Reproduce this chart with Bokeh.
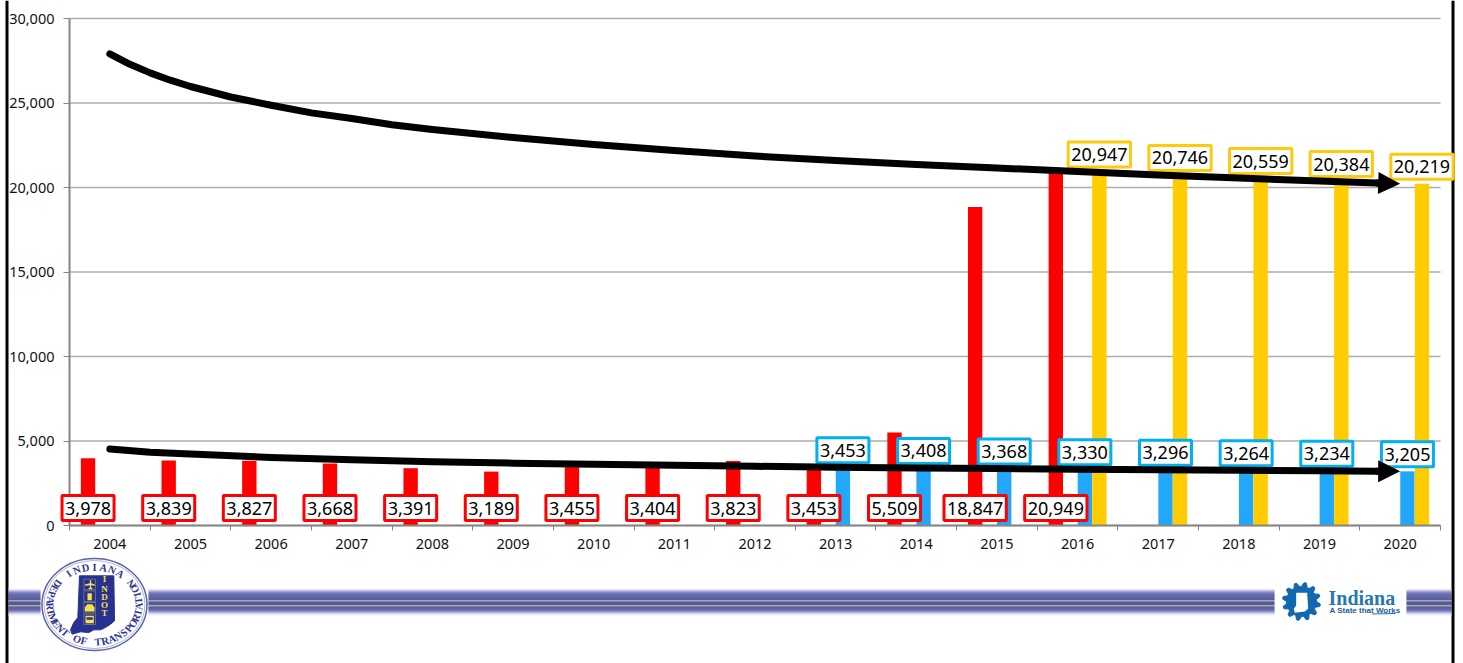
import numpy as np
from bokeh.core.properties import value
from bokeh.embed import file_html
from bokeh.models import (Arrow, ColumnDataSource, FixedTicker, Label, NormalHead,
                          NumeralTickFormatter, Range1d)
from bokeh.plotting import figure
from bokeh.resources import INLINE
from bokeh.transform import dodge

# Actual and forecast counts per year
actual_years = list(range(2004, 2017))
actual_values = [3978, 3839, 3827, 3668, 3391, 3189, 3455, 3404, 3823, 3453, 5509, 18847, 20949]
low_years = list(range(2013, 2021))
low_values = [3453, 3408, 3368, 3330, 3296, 3264, 3234, 3205]
high_years = list(range(2016, 2021))
high_values = [20947, 20746, 20559, 20384, 20219]
all_years = list(range(2004, 2021))
y_ticks = [0, 5000, 10000, 15000, 20000, 25000, 30000]

# Trend curves drawn above the bars
upper_x = [2004, 2004.25, 2004.5, 2004.75, 2005, 2005.5, 2006, 2006.5, 2007, 2007.5, 2008, 2009,
           2010, 2011, 2012, 2013, 2014, 2015, 2016, 2017, 2018, 2019, 2020]
upper_trend = [27911, 27290, 26781, 26349, 25976, 25355, 24870, 24414, 24083, 23710, 23432, 22959,
               22544, 22189, 21864, 21598, 21361, 21154, 20947, 20746, 20559, 20384, 20219]
lower_x = [2004, 2004.5, 2005, 2006, 2007, 2008, 2009, 2010, 2011, 2012, 2013, 2014, 2015, 2016,
           2017, 2018, 2019, 2020]
lower_trend = [4520, 4340, 4225, 4030, 3888, 3775, 3690, 3618, 3558, 3503, 3453, 3408, 3368, 3330,
               3296, 3264, 3234, 3205]

RED, BLUE, GOLD = "#FF0000", "#22A7FB", "#FFCC00"
RED_EDGE, BLUE_EDGE, GOLD_EDGE = "#FF0000", "#00B0F0", "#FFC90E"
FONT = "Noto Sans"
BAR_W = 0.178
OFF_RED, OFF_BLUE, OFF_GOLD = -0.27, 0.09, 0.27
GRID = "#ADADAD"
AXIS = "#868686"

# The plotting area fills the page; the visible axes sit at fixed spots inside it
W, H = 1463, 663
LEFT, RIGHT, TOP, BASE = 69, 1440, 18, 525
X0, X1, Y1 = 2003.5, 2020.5, 30000
px_per_year = (RIGHT - LEFT) / (X1 - X0)
px_per_unit = (BASE - TOP) / Y1
p = figure(width=W, height=H, output_backend="svg", toolbar_location=None,
           x_range=Range1d(X0 - LEFT / px_per_year, X1 + (W - RIGHT) / px_per_year),
           y_range=Range1d(-(H - BASE) / px_per_unit, Y1 + TOP / px_per_unit),
           min_border=0, outline_line_color=None)
p.extra_x_ranges["px"] = Range1d(0, W)
p.extra_y_ranges["py"] = Range1d(H, 0)
page = dict(x_range_name="px", y_range_name="py")
p.grid.visible = False

p.segment(x0=X0, x1=X1, y0=y_ticks, y1=y_ticks, line_color=GRID, line_width=1.3)

p.yaxis.fixed_location = X0
p.yaxis.bounds = (0, Y1)
p.yaxis.ticker = FixedTicker(ticks=y_ticks)
p.yaxis.formatter = NumeralTickFormatter(format="0,0")
p.yaxis.minor_tick_line_color = None
p.yaxis.major_tick_in = 0
p.yaxis.major_tick_out = 6
p.yaxis.major_tick_line_color = AXIS
p.yaxis.major_label_standoff = 9
p.xaxis.fixed_location = 0
p.xaxis.bounds = (X0, X1)
p.xaxis.ticker = FixedTicker(ticks=all_years, minor_ticks=[y - 0.5 for y in all_years] + [X1])
p.xaxis.major_tick_line_color = None
p.xaxis.major_label_standoff = 7
p.xaxis.minor_tick_in = 0
p.xaxis.minor_tick_out = 5
p.xaxis.minor_tick_line_color = AXIS
p.xaxis.formatter = NumeralTickFormatter(format="0")
for ax in (p.xaxis[0], p.yaxis[0]):
    ax.axis_line_color = AXIS
    ax.axis_line_width = 2
    ax.major_label_text_font = FONT
    ax.major_label_text_font_size = "14.5px"
    ax.major_label_text_color = "#111111"

series = [(actual_years, actual_values, OFF_RED, RED),
          (low_years, low_values, OFF_BLUE, BLUE),
          (high_years, high_values, OFF_GOLD, GOLD)]
for years, vals, off, col in series:
    src = ColumnDataSource(dict(year=years, val=vals))
    p.vbar(x=dodge("year", off, range=p.x_range), top="val", width=BAR_W, source=src,
           fill_color=col, line_color=None)


def boxed(year, off, y, text, edge, lift):
    p.add_layout(Label(x=year + off, y=y, y_offset=lift, text=text, text_align="center",
                       text_baseline="middle", text_font=FONT, text_font_size="18px",
                       text_color="#000000", background_fill_color="white",
                       border_line_color=edge, border_line_width=3, padding=(3, 6),
                       level="annotation"))


for yr, v in zip(actual_years, actual_values):
    boxed(yr, OFF_RED, 0, f"{v:,}", RED_EDGE, 17.5)
for yr, v in zip(low_years, low_values):
    boxed(yr, OFF_BLUE, v, f"{v:,}", BLUE_EDGE, 17)
for yr, v in zip(high_years, high_values):
    boxed(yr, OFF_GOLD, v, f"{v:,}", GOLD_EDGE, 17)

for xs, curve in ((upper_x, upper_trend), (lower_x, lower_trend)):
    shaft_y = curve[-1] + (curve[-2] - curve[-1]) * 0.28
    p.line(xs[:-1] + [2019.72], curve[:-1] + [shaft_y], line_color="black", line_width=7,
           line_cap="round", line_join="round", level="overlay")
    p.add_layout(Arrow(end=NormalHead(size=22, fill_color="black", line_color="black", line_width=0),
                       x_start=2019.7, y_start=shaft_y, x_end=2020, y_end=curve[-1],
                       line_color="black", line_width=7, level="overlay"))

# Page edges and footer band, laid out in page pixels
p.quad(left=[5, 1451], right=[8, 1454], top=0, bottom=H, fill_color="black", line_color=None, **page)

band_rows = ["#F4F4FA", "#D0D2EA", "#9FA3D4", "#7176BE", "#5057AC", "#3F46A0", "#363C97", "#303690",
             "#2D338B", "#2A3086", "#282D80", "#25297A", "#B8B8C0", "#24286C", "#212564", "#212564",
             "#24286C", "#C0C0C8", "#25297A", "#282D80", "#2D338B", "#363C97", "#4C52A8", "#787DC0",
             "#A6A9D8", "#CFD1EA", "#EFF0F8"]
for x0, x1 in [(8, 40), (148, 1274), (1406, 1451)]:
    p.quad(left=x0, right=x1, top=[588 + i for i in range(len(band_rows))],
           bottom=[589 + i for i in range(len(band_rows))], fill_color=band_rows, line_color=None, **page)

# Department seal
cx, cy, rx, ry = 94, 604, 52.5, 46
p.ellipse(x=[cx], y=[cy], width=[rx * 2], height=[ry * 2], fill_color="white",
          line_color="#5A62A8", line_width=1.5, **page)
p.ellipse(x=[cx], y=[cy], width=[rx * 2 - 4], height=[ry * 2 - 4], fill_color=None,
          line_color="#9AA0CC", line_width=0.8, **page)


def seal_x(v):
    return [30 + a / 3 for a in v]


def seal_y(v):
    return [552 + a / 3 for a in v]


state_x = [147, 250, 252, 240, 225, 210, 190, 175, 150, 125, 120, 130, 142]
state_y = [70, 70, 205, 215, 225, 232, 232, 240, 238, 245, 232, 210, 195]
p.patch(seal_x(state_x), seal_y(state_y), fill_color="#27318F", line_color="#27318F", **page)

for ch, yy in zip("INDOT", [80, 108, 134, 158, 182]):
    p.text(x=[30 + 222 / 3], y=[552 + yy / 3], text=[ch], text_color="#F5E04A",
           text_font=value("Liberation Serif"), text_font_style="bold", text_font_size="9px",
           text_align="center", text_baseline="middle", **page)

for top, bot in [(80, 112), (115, 147), (150, 181), (185, 216)]:
    p.quad(left=30 + 160 / 3, right=30 + 195 / 3, top=552 + top / 3, bottom=552 + bot / 3,
           fill_color=None, line_color="#8A8A70", line_width=0.7, **page)
ICON = "#F3E24E"
# plane
p.patch(seal_x([178, 182, 182, 193, 193, 182, 182, 186, 186, 174, 174, 178, 178, 163, 163, 178]),
        seal_y([83, 83, 92, 96, 100, 98, 105, 108, 110, 110, 108, 105, 98, 100, 96, 92]),
        fill_color=ICON, line_color=None, **page)
# rail figure
p.quad(left=30 + 171 / 3, right=30 + 184 / 3, top=552 + 122 / 3, bottom=552 + 143 / 3,
       fill_color=ICON, line_color=None, **page)
# car
p.patch(seal_x([163, 170, 185, 192, 192, 163]), seal_y([165, 155, 155, 165, 177, 177]),
        fill_color=ICON, line_color=None, **page)
# bus
p.quad(left=30 + 165 / 3, right=30 + 190 / 3, top=552 + 190 / 3, bottom=552 + 212 / 3,
       fill_color=ICON, line_color=None, **page)
p.quad(left=30 + 168 / 3, right=30 + 187 / 3, top=552 + 194 / 3, bottom=552 + 202 / 3,
       fill_color="#27318F", line_color=None, **page)

text_rx, text_ry = 44.5, 37.5
top_word = "INDIANA"
top_phi = np.radians(np.linspace(125, 55, len(top_word)))
p.text(x=cx + text_rx * np.cos(top_phi), y=cy - text_ry * np.sin(top_phi), text=list(top_word),
       angle=top_phi - np.pi / 2, text_color="#2F3690", text_font=value("Liberation Serif"),
       text_font_style="bold", text_font_size="10.5px", text_align="center", text_baseline="middle", **page)
ring_words = "DEPARTMENT OF TRANSPORTATION"
ring_phi = np.radians(np.linspace(146, 394, len(ring_words)))
p.text(x=cx + text_rx * np.cos(ring_phi), y=cy - text_ry * np.sin(ring_phi), text=list(ring_words),
       angle=ring_phi + np.pi / 2, text_color="#2F3690", text_font=value("Liberation Serif"),
       text_font_style="bold", text_font_size="10.5px", text_align="center", text_baseline="middle", **page)

# State gear mark
GEAR = "#1268AE"
gx, gy = 1301, 601
teeth = 12
gear_a = np.linspace(0, 2 * np.pi, teeth * 4, endpoint=False) + np.pi / teeth / 2
gear_r = np.where(np.arange(teeth * 4) % 4 < 2, 19, 15)
p.patch(gx + gear_r * np.cos(gear_a), gy + gear_r * np.sin(gear_a), fill_color=GEAR, line_color=GEAR, **page)
hole_x = [92, 125, 128, 118, 100, 88, 85, 92]
hole_y = [52, 52, 100, 108, 110, 112, 100, 90]
p.patch([1265 + a / 3 for a in hole_x], [575 + a / 3 for a in hole_y], fill_color="white", line_color=None, **page)
p.text(x=[1328], y=[597], text=["Indiana"], text_color="#2A77B0", text_font=value("Liberation Serif"),
       text_font_style="bold", text_font_size="20px", text_baseline="middle", **page)
p.text(x=[1329], y=[609.5], text=["A State that Works"], text_color="#1F5E94",
       text_font=value("Liberation Sans"), text_font_style="bold", text_font_size="8px",
       text_baseline="middle", **page)
p.line([1372, 1395], [613.5, 613], line_color="#1F6FB0", line_width=1, **page)

open("out.html", "w").write(file_html(p, INLINE))
